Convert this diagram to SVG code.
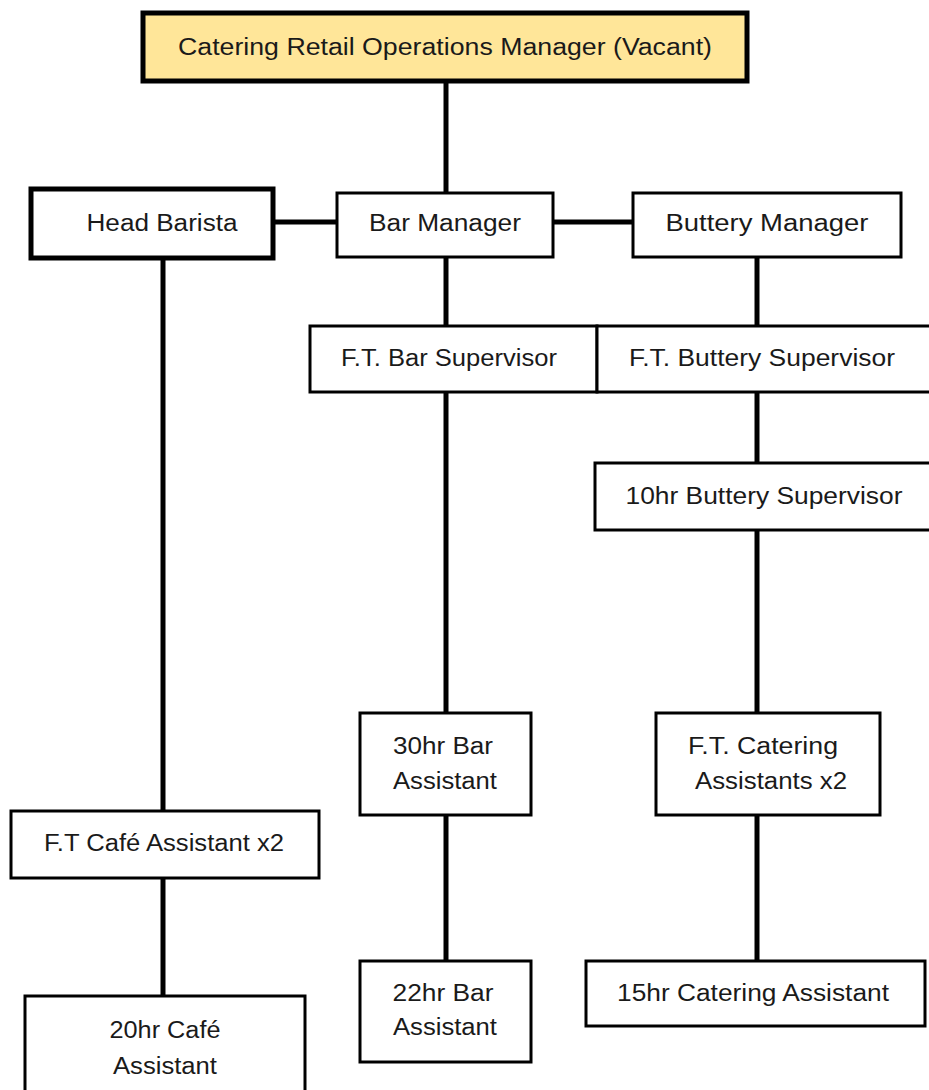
<svg xmlns="http://www.w3.org/2000/svg" width="929" height="1090" viewBox="0 0 929 1090">
<style>
.box{fill:#ffffff;stroke:#000000;stroke-width:3}
.thick{stroke-width:5}
.top{fill:#FFE699;stroke:#000000;stroke-width:5}
.lbl{font-family:"Liberation Sans",Arial,sans-serif;font-size:23px;fill:#1a1a1a;text-anchor:middle}
.conn{stroke:#000000;stroke-width:5;fill:none}
</style>
<rect width="929" height="1090" fill="#ffffff"/>
<g id="connectors">
<line class="conn" x1="446" y1="82" x2="446" y2="192"/>
<line class="conn" x1="274" y1="222" x2="336" y2="222" stroke-width="7"/>
<line class="conn" x1="553" y1="222" x2="632" y2="222" stroke-width="7"/>
<line class="conn" x1="446" y1="257" x2="446" y2="325"/>
<line class="conn" x1="757" y1="257" x2="757" y2="325"/>
<line class="conn" x1="163" y1="259" x2="163" y2="810"/>
<line class="conn" x1="446" y1="392" x2="446" y2="712"/>
<line class="conn" x1="757" y1="392" x2="757" y2="462"/>
<line class="conn" x1="757" y1="530" x2="757" y2="712"/>
<line class="conn" x1="163" y1="878" x2="163" y2="995"/>
<line class="conn" x1="446" y1="816" x2="446" y2="960"/>
<line class="conn" x1="757" y1="815" x2="757" y2="960"/>
</g>
<g id="n-top">
<rect class="top" x="143" y="13" width="604" height="68"/>
<text class="lbl" x="445" y="55" textLength="534" lengthAdjust="spacingAndGlyphs">Catering Retail Operations  Manager (Vacant)</text>
</g>
<g id="n-headbarista">
<rect class="box thick" x="31" y="189" width="242" height="69"/>
<text class="lbl" x="162" y="231" textLength="151" lengthAdjust="spacingAndGlyphs">Head Barista</text>
</g>
<g id="n-barmanager">
<rect class="box" x="337" y="193" width="216" height="64"/>
<text class="lbl" x="445" y="231" textLength="152" lengthAdjust="spacingAndGlyphs">Bar Manager</text>
</g>
<g id="n-butterymanager">
<rect class="box" x="633" y="193" width="268" height="64"/>
<text class="lbl" x="767" y="231" textLength="203" lengthAdjust="spacingAndGlyphs">Buttery Manager</text>
</g>
<g id="n-barsupervisor">
<rect class="box" x="310" y="326" width="287" height="66"/>
<text class="lbl" x="449" y="366" textLength="216" lengthAdjust="spacingAndGlyphs">F.T. Bar Supervisor</text>
</g>
<g id="n-butterysupervisor">
<rect class="box" x="597" y="326" width="335" height="66"/>
<text class="lbl" x="762" y="366" textLength="266" lengthAdjust="spacingAndGlyphs">F.T. Buttery Supervisor</text>
</g>
<g id="n-10hr">
<rect class="box" x="595" y="463" width="337" height="67"/>
<text class="lbl" x="764" y="504" textLength="277" lengthAdjust="spacingAndGlyphs">10hr Buttery Supervisor</text>
</g>
<g id="n-30hr">
<rect class="box" x="360" y="713" width="171" height="102"/>
<text class="lbl" x="443" y="754" textLength="100" lengthAdjust="spacingAndGlyphs">30hr Bar</text>
<text class="lbl" x="445" y="789" textLength="104" lengthAdjust="spacingAndGlyphs">Assistant</text>
</g>
<g id="n-ftcatering">
<rect class="box" x="656" y="713" width="224" height="102"/>
<text class="lbl" x="763" y="754" textLength="150" lengthAdjust="spacingAndGlyphs">F.T. Catering</text>
<text class="lbl" x="771" y="789" textLength="152" lengthAdjust="spacingAndGlyphs">Assistants  x2</text>
</g>
<g id="n-ftcafe">
<rect class="box" x="11" y="811" width="308" height="67"/>
<text class="lbl" x="164" y="851" textLength="240" lengthAdjust="spacingAndGlyphs">F.T Café Assistant x2</text>
</g>
<g id="n-20hr">
<rect class="box" x="25" y="996" width="280" height="100"/>
<text class="lbl" x="165" y="1038" textLength="111" lengthAdjust="spacingAndGlyphs">20hr Café</text>
<text class="lbl" x="165" y="1074" textLength="104" lengthAdjust="spacingAndGlyphs">Assistant</text>
</g>
<g id="n-22hr">
<rect class="box" x="360" y="961" width="171" height="101"/>
<text class="lbl" x="443" y="1001" textLength="101" lengthAdjust="spacingAndGlyphs">22hr Bar</text>
<text class="lbl" x="445" y="1035" textLength="104" lengthAdjust="spacingAndGlyphs">Assistant</text>
</g>
<g id="n-15hr">
<rect class="box" x="586" y="961" width="339" height="65"/>
<text class="lbl" x="753" y="1001" textLength="272" lengthAdjust="spacingAndGlyphs">15hr Catering Assistant</text>
</g>
</svg>
